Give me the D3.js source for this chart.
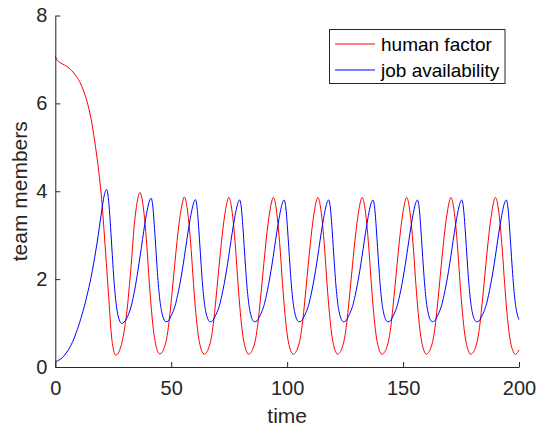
<!DOCTYPE html>
<html>
<head>
<meta charset="utf-8">
<script src="https://cdn.jsdelivr.net/npm/d3@7"></script>
<style>
  html, body { margin: 0; padding: 0; background: #fff; }
  svg { display: block; font-family: "Liberation Sans", Arial, sans-serif; }
</style>
</head>
<body>
<svg id="chart" width="538" height="430"></svg>
<script>
// ---- data ----
const seriesNames = ["human factor", "job availability"];
const seriesColors = ["#ff0000", "#0000ff"];
const xTicks = [0, 50, 100, 150, 200];
const yTicks = [0, 2, 4, 6, 8];
const xLabel = "time";
const yLabel = "team members";

const humanFactorT = [0,0.5,1,2,3,4,5,6,7,8,9,10,11,12,13,14,15,16,17,18,19,20,21,22,23,24,24.5,25,25.5,26,27,28,29,30,31,32,33,34,35,36,36.5,
 37.5,38.5,39.5,40.5,41.5,42.5,43.5,44.5,45.0,46.0,47.0,48.0,49.0,50.0,51.0,52.0,53.0,54.0,55.0,55.6,
 56.6,57.6,58.6,59.6,60.6,61.6,62.6,63.6,64.1,65.2,66.2,67.2,68.2,69.2,70.2,71.2,72.2,73.2,74.2,74.8,
 75.8,76.8,77.8,78.8,79.8,80.8,81.8,82.8,83.3,84.4,85.4,86.4,87.4,88.4,89.4,90.4,91.4,92.4,93.4,94.0,
 95.0,96.0,97.0,98.0,99.0,100.0,101.0,102.0,102.5,103.6,104.6,105.6,106.6,107.6,108.6,109.6,110.6,111.6,112.6,113.2,
 114.2,115.2,116.2,117.2,118.2,119.2,120.2,121.2,121.7,122.7,123.7,124.7,125.7,126.7,127.7,128.7,129.7,130.7,131.7,132.3,
 133.3,134.3,135.3,136.3,137.3,138.3,139.3,140.3,140.8,141.9,142.9,143.9,144.9,145.9,146.9,147.9,148.9,149.9,150.9,151.5,
 152.5,153.5,154.5,155.5,156.5,157.5,158.5,159.5,160.0,161.0,162.0,163.0,164.0,165.0,166.0,167.0,168.0,169.0,170.0,170.6,
 171.6,172.6,173.6,174.6,175.6,176.6,177.6,178.6,179.1,180.2,181.2,182.2,183.2,184.2,185.2,186.2,187.2,188.2,189.2,189.8,
 190.8,191.8,192.8,193.8,194.8,195.8,196.8,197.8,198.3,199.4,200];
const humanFactorV = [7.08,7.01,6.97,6.93,6.90,6.87,6.84,6.80,6.75,6.69,6.62,6.54,6.44,6.31,6.16,5.98,5.76,5.48,5.14,4.76,4.33,3.82,3.12,2.38,1.62,0.85,0.58,0.42,0.31,0.27,0.30,0.42,0.62,0.92,1.32,1.88,2.50,3.20,3.65,3.92,3.97,
 3.80,3.38,2.74,1.96,1.28,0.77,0.47,0.32,0.30,0.33,0.44,0.64,1.00,1.50,2.05,2.60,3.10,3.50,3.78,3.87,
 3.71,3.29,2.67,1.90,1.24,0.75,0.46,0.32,0.29,0.33,0.44,0.64,1.00,1.50,2.05,2.60,3.10,3.50,3.78,3.86,
 3.70,3.28,2.66,1.90,1.24,0.75,0.46,0.32,0.29,0.33,0.44,0.64,1.00,1.50,2.05,2.60,3.10,3.50,3.78,3.86,
 3.70,3.28,2.66,1.90,1.24,0.75,0.46,0.32,0.29,0.33,0.44,0.64,1.00,1.50,2.05,2.60,3.10,3.50,3.78,3.86,
 3.70,3.28,2.66,1.90,1.24,0.75,0.46,0.32,0.29,0.33,0.44,0.64,1.00,1.50,2.05,2.60,3.10,3.50,3.78,3.86,
 3.70,3.28,2.66,1.90,1.24,0.75,0.46,0.32,0.29,0.33,0.44,0.64,1.00,1.50,2.05,2.60,3.10,3.50,3.78,3.86,
 3.70,3.28,2.66,1.90,1.24,0.75,0.46,0.32,0.29,0.33,0.44,0.64,1.00,1.50,2.05,2.60,3.10,3.50,3.78,3.86,
 3.70,3.28,2.66,1.90,1.24,0.75,0.46,0.32,0.29,0.33,0.44,0.64,1.00,1.50,2.05,2.60,3.10,3.50,3.78,3.86,
 3.70,3.28,2.66,1.90,1.24,0.75,0.46,0.32,0.29,0.33,0.39];

const jobAvailabilityT = [0,1,2,3,4,5,6,7,8,9,10,11,12,13,14,15,16,17,18,19,20,21,21.6,22.1,22.6,23.1,23.6,24.1,24.6,25.1,25.6,26.1,26.6,27.1,27.6,28.6,
 29.6,30.6,31.6,32.6,33.6,34.6,35.6,36.6,37.6,38.6,39.6,40.6,41.3,
 41.8,42.3,42.8,43.3,43.8,44.3,44.8,45.3,45.8,46.3,46.8,47.7,48.7,49.7,50.7,51.7,52.7,53.7,54.7,55.7,56.7,57.7,58.7,59.7,60.4,
 60.9,61.4,61.9,62.4,62.9,63.4,63.9,64.4,64.9,65.4,65.9,66.8,67.8,68.8,69.8,70.8,71.8,72.8,73.8,74.8,75.8,76.8,77.8,78.8,79.5,
 80.0,80.5,81.0,81.5,82.0,82.5,83.0,83.5,84.0,84.5,85.0,85.9,87.0,88.0,89.0,90.0,91.0,92.0,93.0,94.0,95.0,96.0,97.0,98.0,98.7,
 99.2,99.7,100.2,100.7,101.2,101.7,102.2,102.7,103.2,103.7,104.2,105.1,106.2,107.2,108.2,109.2,110.2,111.2,112.2,113.2,114.2,115.2,116.2,117.2,117.9,
 118.4,118.9,119.4,119.9,120.4,120.9,121.4,121.9,122.4,122.9,123.4,124.3,125.3,126.3,127.3,128.3,129.3,130.3,131.3,132.3,133.3,134.3,135.3,136.3,137.0,
 137.5,138.0,138.5,139.0,139.5,140.0,140.5,141.0,141.5,142.0,142.5,143.4,144.5,145.5,146.5,147.5,148.5,149.5,150.5,151.5,152.5,153.5,154.5,155.5,156.2,
 156.7,157.2,157.7,158.2,158.7,159.2,159.7,160.2,160.7,161.2,161.7,162.6,163.6,164.6,165.6,166.6,167.6,168.6,169.6,170.6,171.6,172.6,173.6,174.6,175.3,
 175.8,176.3,176.8,177.3,177.8,178.3,178.8,179.3,179.8,180.3,180.8,181.7,182.8,183.8,184.8,185.8,186.8,187.8,188.8,189.8,190.8,191.8,192.8,193.8,194.5,
 195.0,195.5,196.0,196.5,197.0,197.5,198.0,198.5,199.0,199.5,200.0];
const jobAvailabilityV = [0.12,0.14,0.17,0.21,0.27,0.34,0.42,0.52,0.64,0.78,0.93,1.10,1.28,1.48,1.70,1.93,2.20,2.50,2.82,3.18,3.55,3.88,4.00,4.04,3.96,3.72,3.38,2.96,2.54,2.12,1.78,1.50,1.30,1.16,1.07,0.99,
 1.02,1.09,1.20,1.36,1.58,1.86,2.18,2.53,2.90,3.25,3.56,3.78,3.84,
 3.76,3.52,3.15,2.75,2.34,1.97,1.67,1.44,1.28,1.16,1.09,1.03,1.05,1.14,1.25,1.40,1.62,1.88,2.18,2.52,2.88,3.22,3.52,3.74,3.81,
 3.73,3.49,3.13,2.73,2.33,1.95,1.65,1.42,1.26,1.15,1.08,1.03,1.05,1.14,1.25,1.40,1.62,1.88,2.18,2.52,2.88,3.22,3.52,3.74,3.80,
 3.72,3.48,3.12,2.72,2.32,1.95,1.65,1.42,1.26,1.15,1.08,1.03,1.05,1.14,1.25,1.40,1.62,1.88,2.18,2.52,2.88,3.22,3.52,3.74,3.80,
 3.72,3.48,3.12,2.72,2.32,1.95,1.65,1.42,1.26,1.15,1.08,1.03,1.05,1.14,1.25,1.40,1.62,1.88,2.18,2.52,2.88,3.22,3.52,3.74,3.80,
 3.72,3.48,3.12,2.72,2.32,1.95,1.65,1.42,1.26,1.15,1.08,1.03,1.05,1.14,1.25,1.40,1.62,1.88,2.18,2.52,2.88,3.22,3.52,3.74,3.80,
 3.72,3.48,3.12,2.72,2.32,1.95,1.65,1.42,1.26,1.15,1.08,1.03,1.05,1.14,1.25,1.40,1.62,1.88,2.18,2.52,2.88,3.22,3.52,3.74,3.80,
 3.72,3.48,3.12,2.72,2.32,1.95,1.65,1.42,1.26,1.15,1.08,1.03,1.05,1.14,1.25,1.40,1.62,1.88,2.18,2.52,2.88,3.22,3.52,3.74,3.80,
 3.72,3.48,3.12,2.72,2.32,1.95,1.65,1.42,1.26,1.15,1.08,1.03,1.05,1.14,1.25,1.40,1.62,1.88,2.18,2.52,2.88,3.22,3.52,3.74,3.80,
 3.72,3.48,3.12,2.72,2.32,1.95,1.65,1.42,1.26,1.15,1.08];

// ---- layout ----
const W = 538, H = 430;
const plot = { left: 55.3, right: 519, top: 15.5, bottom: 367 };
const axisColor = "#262626";
const tickFont = 20;

const svg = d3.select("#chart");
svg.append("rect").attr("width", W).attr("height", H).attr("fill", "#fff");

const x = d3.scaleLinear().domain([0, 200]).range([plot.left, plot.right]);
const y = d3.scaleLinear().domain([0, 8]).range([plot.bottom, plot.top]);

const series = [
  { name: seriesNames[0], color: seriesColors[0], pts: humanFactorT.map((t, i) => [t, humanFactorV[i]]) },
  { name: seriesNames[1], color: seriesColors[1], pts: jobAvailabilityT.map((t, i) => [t, jobAvailabilityV[i]]) }
];

const line = d3.line()
  .x(d => x(d[0]))
  .y(d => y(d[1]))
  .curve(d3.curveMonotoneX);

svg.append("g").selectAll("path")
  .data(series)
  .join("path")
  .attr("d", d => line(d.pts))
  .attr("fill", "none")
  .attr("stroke", d => d.color)
  .attr("stroke-width", 1);

// axes
const xAxis = d3.axisBottom(x).tickValues(xTicks).tickFormat(d3.format("d"))
  .tickSizeInner(-5).tickSizeOuter(0).tickPadding(14);
const yAxis = d3.axisLeft(y).tickValues(yTicks).tickFormat(d3.format("d"))
  .tickSizeInner(-5).tickSizeOuter(0).tickPadding(8);

const gx = svg.append("g").attr("transform", `translate(0,${plot.bottom})`).call(xAxis);
const gy = svg.append("g").attr("transform", `translate(${plot.left},0)`).call(yAxis);

[gx, gy].forEach(g => {
  g.select(".domain").attr("stroke", axisColor).attr("stroke-width", 1);
  g.selectAll(".tick line").attr("stroke", axisColor).attr("stroke-width", 1);
  g.selectAll(".tick text")
    .attr("fill", axisColor)
    .attr("font-size", tickFont)
    .attr("font-family", "Liberation Sans, Arial, sans-serif");
});

// axis labels
svg.append("text")
  .attr("x", (plot.left + plot.right) / 2)
  .attr("y", 423)
  .attr("text-anchor", "middle")
  .attr("fill", axisColor)
  .attr("font-size", 21)
  .text(xLabel);

svg.append("text")
  .attr("transform", `translate(27,${(plot.top + plot.bottom) / 2}) rotate(-90)`)
  .attr("text-anchor", "middle")
  .attr("fill", axisColor)
  .attr("font-size", 21)
  .text(yLabel);

// legend
const legend = svg.append("g");
legend.append("rect")
  .attr("x", 329.5).attr("y", 29.5)
  .attr("width", 175.5).attr("height", 54)
  .attr("fill", "#fff")
  .attr("stroke", axisColor)
  .attr("stroke-width", 1);

series.forEach((s, i) => {
  const ly = 44 + i * 26;
  legend.append("line")
    .attr("x1", 335).attr("x2", 375)
    .attr("y1", ly).attr("y2", ly)
    .attr("stroke", s.color).attr("stroke-width", 1);
  legend.append("text")
    .attr("x", 381).attr("y", ly)
    .attr("dy", "0.35em")
    .attr("fill", "#000")
    .attr("font-size", 19)
    .text(s.name);
});
</script>
</body>
</html>
